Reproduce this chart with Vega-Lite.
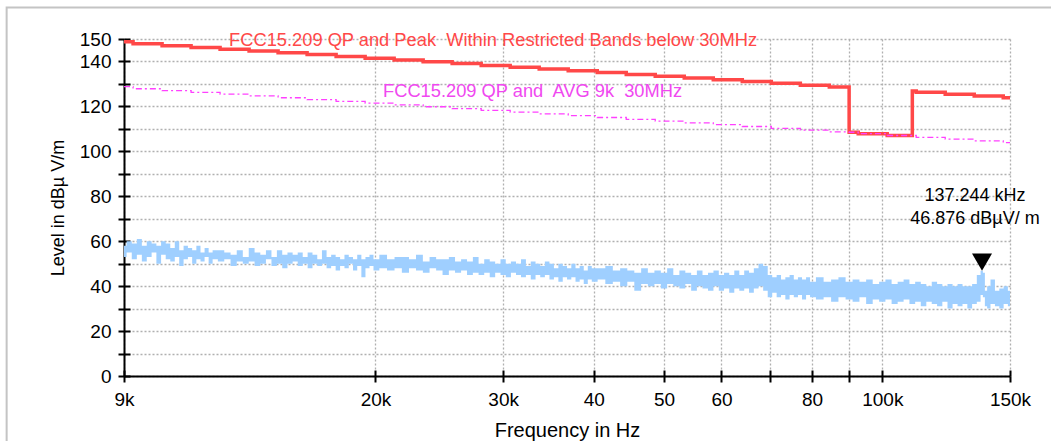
{
  "$schema": "https://vega.github.io/schema/vega-lite/v6.json",
  "width": 886,
  "height": 337,
  "autosize": {"type": "none"},
  "padding": {"left": 124, "top": 39, "right": 41, "bottom": 65},
  "background": "white",
  "config": {"view": {"stroke": null}, "font": "Liberation Sans"},
  "datasets": {
    "trace": [
      {"f":9000,"lo":53,"hi":58},{"f":9150,"lo":55,"hi":60},{"f":9300,"lo":52,"hi":59},{"f":9450,"lo":54,"hi":61},{"f":9600,"lo":51,"hi":58},{"f":9750,"lo":53,"hi":60},{"f":9900,"lo":55,"hi":59},{"f":10050,"lo":50,"hi":58},{"f":10200,"lo":54,"hi":60},{"f":10350,"lo":52,"hi":59},{"f":10500,"lo":51,"hi":57},{"f":10650,"lo":53,"hi":60},{"f":10800,"lo":49,"hi":56},{"f":10950,"lo":52,"hi":58},{"f":11100,"lo":53,"hi":57},{"f":11250,"lo":50,"hi":56},{"f":11400,"lo":52,"hi":58},{"f":11550,"lo":51,"hi":55},{"f":11700,"lo":53,"hi":57},{"f":11850,"lo":50,"hi":55},{"f":12000,"lo":52,"hi":56},
      {"f":12250,"lo":51,"hi":56},{"f":12500,"lo":52,"hi":55},{"f":12750,"lo":49,"hi":54},{"f":13000,"lo":51,"hi":56},{"f":13250,"lo":50,"hi":53},{"f":13500,"lo":51,"hi":57},{"f":13750,"lo":49,"hi":55},{"f":14000,"lo":50,"hi":54},{"f":14250,"lo":52,"hi":56},{"f":14500,"lo":49,"hi":53},{"f":14750,"lo":50,"hi":56},{"f":15000,"lo":48,"hi":54},{"f":15250,"lo":50,"hi":55},{"f":15500,"lo":51,"hi":54},{"f":15750,"lo":49,"hi":55},{"f":16000,"lo":50,"hi":53},{"f":16250,"lo":48,"hi":55},{"f":16500,"lo":50,"hi":54},{"f":16750,"lo":49,"hi":52},{"f":17000,"lo":50,"hi":56},{"f":17250,"lo":48,"hi":53},{"f":17500,"lo":49,"hi":54},{"f":17750,"lo":47,"hi":53},{"f":18000,"lo":49,"hi":52},{"f":18250,"lo":48,"hi":54},{"f":18500,"lo":50,"hi":53},{"f":18750,"lo":47,"hi":52},{"f":19000,"lo":49,"hi":54},{"f":19250,"lo":44,"hi":52},{"f":19500,"lo":48,"hi":53},{"f":19750,"lo":49,"hi":54},{"f":20000,"lo":47,"hi":52},
      {"f":20500,"lo":48,"hi":54},{"f":21000,"lo":47,"hi":52},{"f":21500,"lo":48,"hi":53},{"f":22000,"lo":46,"hi":53},{"f":22500,"lo":48,"hi":52},{"f":23000,"lo":47,"hi":54},{"f":23500,"lo":46,"hi":51},{"f":24000,"lo":48,"hi":53},{"f":24500,"lo":47,"hi":52},{"f":25000,"lo":45,"hi":52},{"f":25500,"lo":47,"hi":53},{"f":26000,"lo":46,"hi":51},{"f":26500,"lo":47,"hi":52},{"f":27000,"lo":45,"hi":51},{"f":27500,"lo":46,"hi":53},{"f":28000,"lo":45,"hi":50},{"f":28500,"lo":46,"hi":52},{"f":29000,"lo":44,"hi":51},{"f":29500,"lo":46,"hi":50},{"f":30000,"lo":45,"hi":52},{"f":30500,"lo":44,"hi":50},{"f":31000,"lo":46,"hi":51},{"f":31500,"lo":45,"hi":50},{"f":32000,"lo":44,"hi":52},{"f":32500,"lo":45,"hi":49},{"f":33000,"lo":43,"hi":51},{"f":33500,"lo":45,"hi":50},{"f":34000,"lo":44,"hi":49},{"f":34500,"lo":45,"hi":51},{"f":35000,"lo":43,"hi":50},{"f":35500,"lo":44,"hi":48},{"f":36000,"lo":42,"hi":50},{"f":36500,"lo":44,"hi":49},{"f":37000,"lo":43,"hi":48},{"f":37500,"lo":44,"hi":50},{"f":38000,"lo":42,"hi":48},{"f":38500,"lo":43,"hi":49},{"f":39000,"lo":41,"hi":47},{"f":39500,"lo":43,"hi":49},{"f":40000,"lo":42,"hi":48},
      {"f":41000,"lo":43,"hi":48},{"f":42000,"lo":41,"hi":49},{"f":43000,"lo":42,"hi":47},{"f":44000,"lo":40,"hi":48},{"f":45000,"lo":42,"hi":47},{"f":46000,"lo":38,"hi":46},{"f":47000,"lo":41,"hi":48},{"f":48000,"lo":40,"hi":46},{"f":49000,"lo":41,"hi":47},{"f":50000,"lo":39,"hi":46},{"f":51000,"lo":41,"hi":48},{"f":52000,"lo":40,"hi":45},{"f":53000,"lo":39,"hi":47},{"f":54000,"lo":41,"hi":46},{"f":55000,"lo":38,"hi":45},{"f":56000,"lo":40,"hi":47},{"f":57000,"lo":39,"hi":45},{"f":58000,"lo":38,"hi":46},{"f":59000,"lo":40,"hi":47},{"f":60000,"lo":38,"hi":45},{"f":61000,"lo":39,"hi":46},{"f":62000,"lo":37,"hi":45},{"f":63000,"lo":39,"hi":47},{"f":64000,"lo":38,"hi":45},{"f":65000,"lo":39,"hi":47},{"f":66000,"lo":37,"hi":46},{"f":67000,"lo":39,"hi":48},{"f":68000,"lo":40,"hi":50},{"f":69000,"lo":38,"hi":49},{"f":70000,"lo":35,"hi":45},{"f":71000,"lo":37,"hi":44},{"f":72000,"lo":35,"hi":45},{"f":73000,"lo":36,"hi":43},{"f":74000,"lo":34,"hi":44},{"f":75000,"lo":36,"hi":45},{"f":76000,"lo":35,"hi":43},{"f":77000,"lo":36,"hi":44},{"f":78000,"lo":34,"hi":43},{"f":79000,"lo":36,"hi":44},{"f":80000,"lo":35,"hi":42},
      {"f":82000,"lo":34,"hi":44},{"f":84000,"lo":35,"hi":42},{"f":86000,"lo":33,"hi":43},{"f":88000,"lo":35,"hi":44},{"f":90000,"lo":34,"hi":42},{"f":92000,"lo":33,"hi":43},{"f":94000,"lo":35,"hi":42},{"f":96000,"lo":32,"hi":43},{"f":98000,"lo":34,"hi":41},{"f":100000,"lo":33,"hi":42},{"f":102000,"lo":34,"hi":43},{"f":104000,"lo":32,"hi":41},{"f":106000,"lo":33,"hi":42},{"f":108000,"lo":34,"hi":43},{"f":110000,"lo":32,"hi":41},{"f":112000,"lo":33,"hi":42},{"f":114000,"lo":31,"hi":41},{"f":116000,"lo":33,"hi":40},{"f":118000,"lo":32,"hi":42},{"f":120000,"lo":31,"hi":41},{"f":122000,"lo":33,"hi":40},{"f":124000,"lo":30,"hi":41},{"f":126000,"lo":32,"hi":40},{"f":128000,"lo":31,"hi":41},{"f":130000,"lo":32,"hi":40},{"f":132000,"lo":30,"hi":40},{"f":134000,"lo":32,"hi":41},{"f":136000,"lo":33,"hi":45},{"f":137244,"lo":36,"hi":46.876},{"f":138000,"lo":35,"hi":46},{"f":139000,"lo":31,"hi":38},{"f":140000,"lo":30,"hi":40},{"f":142000,"lo":32,"hi":43},{"f":144000,"lo":31,"hi":38},{"f":146000,"lo":30,"hi":39},{"f":148000,"lo":32,"hi":40},{"f":150000,"lo":31,"hi":38}
    ],
    "limits": [
      {"f":9000,"peak":148.8,"avg":128.8},{"f":9263,"peak":147.85,"avg":127.85},{"f":10157,"peak":147.05,"avg":127.05},{"f":11137,"peak":146.25,"avg":126.25},{"f":12211,"peak":145.45,"avg":125.45},{"f":13389,"peak":144.65,"avg":124.65},{"f":14681,"peak":143.85,"avg":123.85},{"f":16098,"peak":143.05,"avg":123.05},{"f":17651,"peak":142.25,"avg":122.25},{"f":19355,"peak":141.45,"avg":121.45},{"f":21222,"peak":140.65,"avg":120.65},{"f":23270,"peak":139.85,"avg":119.85},{"f":25515,"peak":139.05,"avg":119.05},{"f":27979,"peak":138.25,"avg":118.25},{"f":30678,"peak":137.45,"avg":117.45},{"f":33638,"peak":136.65,"avg":116.65},{"f":36885,"peak":135.85,"avg":115.85},{"f":40444,"peak":135.05,"avg":115.05},{"f":44348,"peak":134.25,"avg":114.25},{"f":48626,"peak":133.45,"avg":113.45},{"f":53319,"peak":132.65,"avg":112.65},{"f":58465,"peak":131.85,"avg":111.85},{"f":64106,"peak":131.05,"avg":111.05},{"f":70294,"peak":130.25,"avg":110.25},{"f":77077,"peak":129.45,"avg":109.45},{"f":84515,"peak":128.65,"avg":108.65},{"f":90000,"peak":108.5,"avg":108.5},{"f":92632,"peak":107.85,"avg":107.85},{"f":101568,"peak":107.05,"avg":107.05},{"f":110000,"peak":126.9,"avg":107.05},{"f":111366,"peak":126.25,"avg":106.25},{"f":122112,"peak":125.45,"avg":105.45},{"f":133893,"peak":124.65,"avg":104.65},{"f":146817,"peak":123.85,"avg":103.85},{"f":150000,"peak":123.85,"avg":103.85}
    ]
  },
  "layer": [
    {
      "data": {"values": [{"frame": "outer"}]},
      "mark": {"type": "rect", "fill": null, "stroke": "#c4c4c4", "strokeWidth": 2, "clip": false},
      "encoding": {
        "x": {"datum": 6200, "type": "quantitative", "scale": {"type": "log", "domain": [9000, 150000]}, "axis": null},
        "x2": {"datum": 400000},
        "y": {"datum": 164, "type": "quantitative", "scale": {"domain": [0, 150]}, "axis": null},
        "y2": {"datum": -40}
      }
    },
    {
      "data": {"name": "trace"},
      "mark": {"type": "area", "interpolate": "step", "color": "#9fcfff", "opacity": 1, "clip": true},
      "encoding": {
        "x": {"field": "f", "type": "quantitative", "scale": {"type": "log", "domain": [9000, 150000]},
          "axis": {"orient": "bottom", "values": [9000,20000,30000,40000,50000,60000,70000,80000,90000,100000,150000],
            "labelExpr": "datum.value==9000?'9k':datum.value==20000?'20k':datum.value==30000?'30k':datum.value==40000?'40':datum.value==50000?'50':datum.value==60000?'60':datum.value==80000?'80':datum.value==100000?'100k':datum.value==150000?'150k':''",
            "title": "Frequency in Hz", "titleFontSize": 20, "titleFontWeight": "normal", "titleColor": "#000", "titlePadding": 11, "titleFont": "Liberation Sans",
            "labelFontSize": 19, "labelColor": "#000", "labelFont": "Liberation Sans", "labelPadding": 8, "labelOverlap": false, "labelFlush": false, "labelBound": false,
            "domainColor": "#000", "domainWidth": 2, "tickColor": "#000", "tickWidth": 2, "tickSize": 6,
            "grid": true, "gridColor": "#b0b0b0", "gridDash": [2, 2], "gridWidth": 1.3}},
        "y": {"field": "lo", "type": "quantitative", "scale": {"domain": [0, 150]},
          "axis": {"orient": "left", "values": [0,10,20,30,40,50,60,70,80,90,100,110,120,130,140,150],
            "labelExpr": "(datum.value % 20 == 0 || datum.value == 150) ? datum.value : ''",
            "title": "Level in dBµ V/m", "titleFontSize": 18, "titleFontWeight": "normal", "titleColor": "#000", "titlePadding": 12, "titleFont": "Liberation Sans",
            "labelFontSize": 19, "labelColor": "#000", "labelFont": "Liberation Sans", "labelPadding": 7, "labelOverlap": false, "labelBound": false, "labelFlush": false,
            "domainColor": "#000", "domainWidth": 2, "tickColor": "#000", "tickWidth": 2, "tickSize": 6,
            "grid": true, "gridColor": "#b0b0b0", "gridDash": [2, 2], "gridWidth": 1.3}},
        "y2": {"field": "hi"}
      }
    },
    {
      "data": {"name": "limits"},
      "mark": {"type": "line", "interpolate": "step-after", "color": "#ff4848", "strokeWidth": 3.5, "clip": true},
      "encoding": {
        "x": {"field": "f", "type": "quantitative", "scale": {"type": "log", "domain": [9000, 150000]},
          "axis": {"orient": "bottom", "values": [9000,20000,30000,40000,50000,60000,70000,80000,90000,100000,150000], "labels": false, "domain": false, "grid": false, "title": null, "tickColor": "#000", "tickWidth": 2, "tickSize": -6}},
        "y": {"field": "peak", "type": "quantitative", "scale": {"domain": [0, 150]},
          "axis": {"orient": "left", "values": [0,10,20,30,40,50,60,70,80,90,100,110,120,130,140,150], "labels": false, "domain": false, "grid": false, "title": null, "tickColor": "#000", "tickWidth": 2, "tickSize": -6}}
      }
    },
    {
      "data": {"name": "limits"},
      "mark": {"type": "line", "interpolate": "step-after", "color": "#ff40ff", "strokeWidth": 1.3, "strokeDash": [6, 3, 2, 3], "clip": true},
      "encoding": {
        "x": {"field": "f", "type": "quantitative", "scale": {"type": "log", "domain": [9000, 150000]}, "axis": null},
        "y": {"field": "avg", "type": "quantitative", "scale": {"domain": [0, 150]}, "axis": null}
      }
    },
    {
      "data": {"values": [{"f": 137244, "level": 46.876}]},
      "mark": {"type": "point", "shape": "triangle-down", "size": 400, "filled": true, "color": "#000", "opacity": 1, "yOffset": -8.5},
      "encoding": {
        "x": {"field": "f", "type": "quantitative", "scale": {"type": "log", "domain": [9000, 150000]}, "axis": null},
        "y": {"field": "level", "type": "quantitative", "scale": {"domain": [0, 150]}, "axis": null}
      }
    },
    {
      "data": {"values": [{"label": "FCC15.209 QP and Peak\u00a0 Within Restricted Bands below 30MHz"}]},
      "mark": {"type": "text", "align": "left", "baseline": "middle", "fontSize": 18.3, "color": "#ff4848", "font": "Liberation Sans"},
      "encoding": {
        "x": {"datum": 12564, "type": "quantitative", "scale": {"type": "log", "domain": [9000, 150000]}, "axis": null},
        "y": {"datum": 149.1, "type": "quantitative", "scale": {"domain": [0, 150]}, "axis": null},
        "text": {"field": "label"}
      }
    },
    {
      "data": {"values": [{"label": "FCC15.209 QP and\u00a0 AVG 9k\u00a0 30MHz"}]},
      "mark": {"type": "text", "align": "left", "baseline": "middle", "fontSize": 18.3, "color": "#f048f0", "font": "Liberation Sans"},
      "encoding": {
        "x": {"datum": 20486, "type": "quantitative", "scale": {"type": "log", "domain": [9000, 150000]}, "axis": null},
        "y": {"datum": 126.4, "type": "quantitative", "scale": {"domain": [0, 150]}, "axis": null},
        "text": {"field": "label"}
      }
    },
    {
      "data": {"values": [{"label": "137.244 kHz"}]},
      "mark": {"type": "text", "align": "center", "baseline": "middle", "fontSize": 18, "color": "#000", "font": "Liberation Sans"},
      "encoding": {
        "x": {"datum": 134200, "type": "quantitative", "scale": {"type": "log", "domain": [9000, 150000]}, "axis": null},
        "y": {"datum": 80.1, "type": "quantitative", "scale": {"domain": [0, 150]}, "axis": null},
        "text": {"field": "label"}
      }
    },
    {
      "data": {"values": [{"label": "46.876 dBµV/ m"}]},
      "mark": {"type": "text", "align": "center", "baseline": "middle", "fontSize": 18, "color": "#000", "font": "Liberation Sans"},
      "encoding": {
        "x": {"datum": 134200, "type": "quantitative", "scale": {"type": "log", "domain": [9000, 150000]}, "axis": null},
        "y": {"datum": 69.9, "type": "quantitative", "scale": {"domain": [0, 150]}, "axis": null},
        "text": {"field": "label"}
      }
    }
  ],
  "resolve": {"axis": {"x": "independent", "y": "independent"}}
}
